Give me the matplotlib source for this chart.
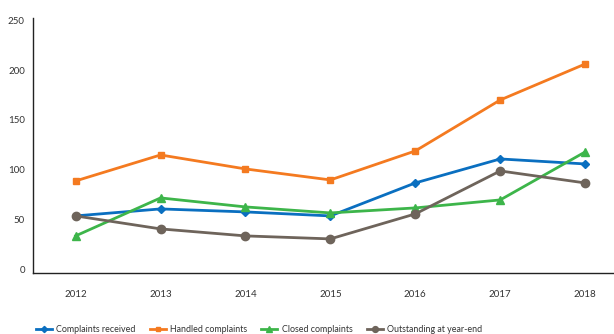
import matplotlib.pyplot as plt

years = ["2012", "2013", "2014", "2015", "2016", "2017", "2018"]
received = [54, 61, 58, 54, 87, 111, 106]
handled = [89, 115, 101, 90, 119, 170, 206]
closed = [34, 72, 63, 57, 62, 70, 118]
outstanding = [54, 41, 34, 31, 56, 99, 87]

plt.rcParams['font.family'] = ['Lato', 'DejaVu Sans']

fig = plt.figure(figsize=(6.14, 3.34), dpi=100)
ax = fig.add_axes([0.054, 0.183, 0.946, 0.763])

x = range(len(years))
ax.plot(x, received, color="#0a6fc0", marker="D", markersize=4.5, lw=2, label="Complaints received")
ax.plot(x, handled, color="#f47a20", marker="s", markersize=5, lw=2, label="Handled complaints")
ax.plot(x, closed, color="#3db54a", marker="^", markersize=6, lw=2, label="Closed complaints")
ax.plot(x, outstanding, color="#6e645b", marker="o", markersize=6, lw=2, label="Outstanding at year-end")

ax.set_xlim(-0.5, 6.34)
ax.set_ylim(-3, 252)
ax.set_xticks(list(x))
ax.set_xticklabels(years)
ax.set_yticks([0, 50, 100, 150, 200, 250])
ax.tick_params(length=0, labelsize=7, colors="#333333")
ax.tick_params(axis="x", pad=12)
ax.tick_params(axis="y", pad=6)
for s in ["top", "right"]:
    ax.spines[s].set_visible(False)
for s in ["left", "bottom"]:
    ax.spines[s].set_color("#222222")
    ax.spines[s].set_linewidth(1)

fig.legend(loc="lower left", bbox_to_anchor=(0.045, -0.025), ncol=4, frameon=False,
           fontsize=6.4, handlelength=1.8, handletextpad=0.5, columnspacing=1.6,
           markerscale=0.7, labelcolor="#333333")

fig.savefig("out.png", dpi=100)
